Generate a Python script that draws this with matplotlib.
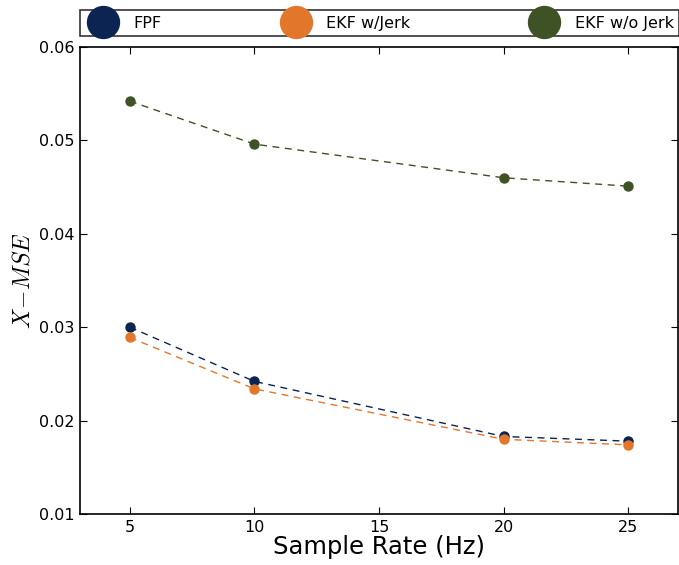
import numpy as np
import matplotlib
matplotlib.use("Agg")
import matplotlib.pyplot as plt
from matplotlib.lines import Line2D

plt.rcParams["mathtext.fontset"] = "cm"

rates = [5, 10, 20, 25]
fpf = [0.0300, 0.0242, 0.0183, 0.0178]
ekf_jerk = [0.0289, 0.0234, 0.0180, 0.0174]
ekf_nojerk = [0.0542, 0.0496, 0.0460, 0.0451]

names = ["FPF", "EKF w/Jerk", "EKF w/o Jerk"]
colors = ["#0b2452", "#e2772c", "#3f5225"]
series = [fpf, ekf_jerk, ekf_nojerk]

fig = plt.figure(figsize=(6.79, 5.65), dpi=100)
ax = fig.add_axes([80/679, 51/565, 598/679, 467/565])

for vals, c in zip(series, colors):
    ax.plot(rates, vals, linestyle="--", color=c, linewidth=1,
            marker="o", markersize=6.5, markeredgecolor=c, dashes=(5, 4))

ax.set_xlim(3, 27)
ax.set_ylim(0.01, 0.06)
ax.set_xticks([5, 10, 15, 20, 25])
ax.set_yticks([0.01, 0.02, 0.03, 0.04, 0.05, 0.06])
ax.set_yticklabels(["0.01", "0.02", "0.03", "0.04", "0.05", "0.06"])
ax.tick_params(direction="in", top=True, right=True, labelsize=11.5, length=5, pad=4)
for s in ax.spines.values():
    s.set_linewidth(1.2)
ax.set_xlabel("Sample Rate (Hz)", fontsize=17.5, labelpad=0)
ax.set_ylabel(r"$X\!-\!MSE$", fontsize=17)
ax.yaxis.set_label_coords(-0.076, 0.5)

handles = [Line2D([], [], linestyle="none", marker="o", markersize=23,
                  color=c, markeredgecolor=c) for c in colors]
leg = fig.legend(handles, names, ncol=3, loc="upper left",
                 bbox_to_anchor=(80/679, 1 - 10/565), borderaxespad=0,
                 fontsize=11.5, frameon=True, fancybox=False,
                 handlelength=2.2, handletextpad=0.8, borderpad=0.35,
                 columnspacing=7.3)
leg.get_frame().set_edgecolor("black")
leg.get_frame().set_linewidth(1.2)

fig.savefig("out.png", dpi=100)
